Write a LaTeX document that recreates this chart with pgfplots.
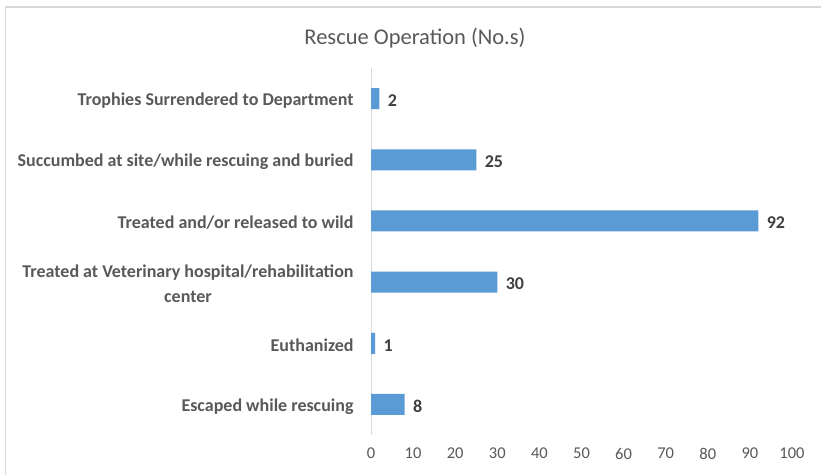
\documentclass[border=0pt]{standalone}
\usepackage{pgfplots}
\pgfplotsset{compat=1.18}
\usepackage{fontspec}
\setmainfont{Carlito}
\definecolor{barblue}{HTML}{5B9BD5}
\definecolor{txtgray}{HTML}{595959}
\definecolor{valgray}{HTML}{404040}
\definecolor{axgray}{HTML}{D9D9D9}
\begin{document}
\begin{tikzpicture}[x=1pt,y=1pt]
\useasboundingbox (0,0) rectangle (821,475);
\fill[white] (0,0) rectangle (821,475);
\draw[axgray,line width=1.2pt] (5.5,0) -- (5.5,468) -- (821,468);
\node[text=txtgray,font=\fontsize{22.5}{26}\selectfont] at (415,437) {Rescue Operation (No.s)};
\begin{axis}[
  at={(371pt,40pt)}, anchor=south west,
  scale only axis, width=421pt, height=367pt,
  xbar, bar width=21pt,
  xmin=0, xmax=100, ymin=-0.5, ymax=5.5,
  xtick={0,10,...,100},
  ytick={0,1,2,3,4,5},
  yticklabels={Escaped while rescuing, Euthanized, {Treated at Veterinary hospital/rehabilitation\\center}, Treated and/or released to wild, Succumbed at site/while rescuing and buried, Trophies Surrendered to Department},
  yticklabel style={font=\bfseries\fontsize{18}{25}\selectfont, text=txtgray, align=center, inner sep=0pt, xshift=-13pt, yshift=-2pt},
  xticklabel style={font=\fontsize{16.5}{20}\selectfont, text=txtgray, inner sep=0pt, yshift=-13pt},
  /pgf/number format/assume math mode=true,
  tick style={draw=none},
  axis y line*=left,
  y axis line style={draw=axgray, line width=1pt},
  x axis line style={draw=none},
  nodes near coords,
  nodes near coords style={font=\bfseries\fontsize{18}{22}\selectfont, text=valgray, anchor=west, xshift=5pt, yshift=-2pt},
  clip=false,
]
\addplot[fill=barblue, draw=none] coordinates {(8,0) (1,1) (30,2) (92,3) (25,4) (2,5)};
\end{axis}
\end{tikzpicture}
\end{document}
